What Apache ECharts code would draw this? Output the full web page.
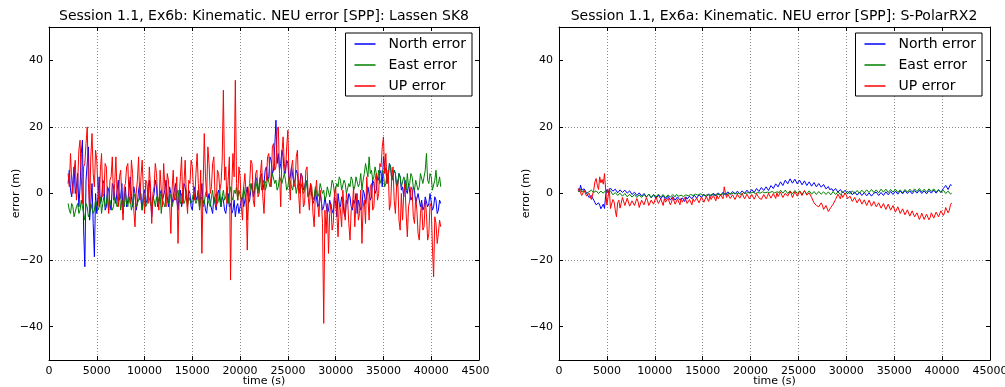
<!DOCTYPE html>
<html>
<head>
<meta charset="utf-8">
<script src="https://cdn.jsdelivr.net/npm/echarts@6/dist/echarts.min.js"></script>
<style>
  html, body { margin: 0; padding: 0; background: #fff; }
  #chart { width: 1005px; height: 387px; }
</style>
</head>
<body>
<div id="chart"></div>
<script>
// Epoch sampling of both receivers (seconds of day)
const timeStart = 2000;
const timeStep = 125;

const seriesNames = ['North error', 'East error', 'UP error'];
const panelTitles = [
  'Session 1.1, Ex6b: Kinematic. NEU error [SPP]: Lassen SK8',
  'Session 1.1, Ex6a: Kinematic. NEU error [SPP]: S-PolarRX2'
];
const xTickValues = [0, 5000, 10000, 15000, 20000, 25000, 30000, 35000, 40000, 45000];
const yTickValues = [-40, -20, 0, 20, 40];

// Lassen SK8 NEU errors (m), one row per 2500 s
const sk8North = [
  3, 7, 1, -1, 4, 8, 0, 2, 6, -4, 2, 12, 16, -11, -22, 4, 9, 14, -8, -3,
  3, -9, -19, 0, -6, -1, 5, -3, -2, 4, 3, -5, -4, 2, 1, -3, -5, 3, 2, -1,
  -3, 1, 4, -2, -1, 3, -6, -1, 2, -4, -2, 1, 5, -1, -4, 2, 0, -5, -3, 1,
  3, -2, -5, 0, 1, -3, -2, 2, 4, -1, -7, -2, 0, 4, 2, -4, -3, 0, 1, -2,
  -2, 1, 4, -1, -4, 2, 0, -3, -1, 1, 3, -2, -5, 0, 1, -4, -2, 3, 2, -1,
  -3, 1, 0, -4, -5, -1, 2, -2, -1, 1, -4, -1, 3, -3, -2, -5, -6, -2, 0, -3,
  -3, -6, -1, -3, -5, 0, 1, -2, -4, -1, -2, -5, -6, -3, 0, -4, -3, -6, -5, -2,
  -7, -4, -3, -6, -6, -2, -1, -4, -4, 0, 2, -3, -2, 1, 3, -1, 0, 5, 4, 1,
  2, 5, 6, 1, 3, 7, 8, 4, 5, 11, 10, 6, 7, 14, 22, 9, 12, 7, 9, 13,
  11, 6, 7, 10, 9, 4, 5, 8, 8, 3, 4, 7, 6, 2, 3, 6, 5, 1, 2, 4,
  3, -1, 0, 2, 2, -3, -2, 1, 1, -4, -3, 0, 0, -5, -4, -1, -1, -6, -5, -2,
  -2, -5, -6, -1, -3, -7, 0, -3, -4, -1, -2, -6, -7, -2, -3, 0, -1, -4, -5, -2,
  -3, 0, -6, -2, -2, -5, -4, 1, 0, -3, -3, 2, 2, -2, -1, 4, 3, 0, 1, 5,
  4, 7, 6, 2, 11, 8, 7, 3, 5, 9, 8, 4, 4, 7, 6, 2, 3, 6, 5, 1,
  2, -1, 4, 1, 0, 3, 3, -2, -1, 2, 1, -3, -3, 0, 0, -4, -2, -5, -4, -1,
  -1, -4, -3, 0, 0, -5, -4, -1, -2, -6, -5, -2, -3
];
const sk8East = [
  -3, -5, -6, -3, -4, -7, -7, -4, -3, -6, -5, -2, -2, -6, -8, -3, -4, -7, -6, -3,
  -3, -6, -5, -2, -2, -5, -4, -1, -6, -3, -1, -4, -3, 0, -5, -2, -2, -5, -4, -1,
  -1, -4, -3, 0, -5, -2, -2, -4, 0, -3, -4, -1, -2, -5, -3, 0, -1, -4, -4, -2,
  -2, 0, -5, -2, -1, -4, -3, 0, 0, -3, -4, -1, -2, -4, -1, -3, -3, 0, -6, -2,
  -2, -4, 0, -2, -3, 0, -1, -4, -4, -1, -2, 0, 1, -2, -3, 0, -1, -3, -2, 1,
  -4, -1, -1, -3, -3, 0, 0, -3, -2, 1, -5, -2, -1, -4, -3, 0, 1, -2, -2, -4,
  -1, 1, -3, -1, 0, -3, -2, 1, -4, -1, 1, -2, -1, 2, -3, 0, 2, -1, -2, 1,
  0, 2, -2, 1, 1, -2, -1, 2, 2, -3, -8, -2, 0, 3, 3, 0, 1, 4, 2, 0,
  3, 5, 1, 3, 4, 1, 2, 5, 5, 2, 3, 6, 6, 3, 4, 1, 2, 5, 5, 3,
  3, 6, 4, 1, 2, 5, 5, 2, 1, 4, 3, 0, 2, 4, 0, 3, 3, 0, 1, 4,
  2, -1, 0, 3, 1, -2, -1, 2, 2, -1, 0, 3, 3, 0, 1, -2, -1, 2, 2, -1,
  1, 4, 3, 0, 0, 3, 2, 5, 4, 1, 1, 4, 3, 0, 0, 3, 2, 5, 4, 1,
  2, 5, 5, 2, 3, 6, 1, 4, 6, 9, 9, 5, 11, 6, 7, 4, 5, 8, 8, 4,
  7, 3, 4, 7, 6, 2, 3, 6, 5, 9, 8, 4, 4, 7, 6, 2, 3, 6, 5, 2,
  2, 5, 4, 1, 6, 2, 3, 6, 5, 2, 1, 4, 4, 1, 2, 6, 6, 3, 3, 7,
  12, 4, 3, 6, 5, 1, 1, 4, 7, 2, 3, 5, 2
];
const sk8Up = [
  6, 2, 12, 4, 0, 7, 10, -2, 3, 13, 16, 5, -3, 8, 9, 15, 20, 3, -5, 11,
  18, 6, 2, 13, 10, 1, -4, 7, 12, -1, 0, 9, 8, -2, -6, 4, 5, 11, -2, 3,
  11, 0, -4, 5, 7, -2, -8, 2, 3, 8, 9, -1, -3, 10, 6, -5, -10, 0, 4, 11,
  -2, 5, 10, 1, -6, 4, 3, -3, 8, 2, -9, 0, 2, 9, 6, -2, -5, 7, 1, -4,
  9, 2, -4, 6, 4, -3, -12, 1, 7, -2, 0, 5, -15, -1, 5, 11, -3, 3, 10, -1,
  -6, 4, 3, 10, 8, 1, -2, 6, 12, 3, -4, 7, -18, 2, 18, 5, -1, 14, 9, 0,
  2, 9, 11, -1, -4, 7, 6, 1, 3, 10, 31, 4, 8, -3, 4, 11, -26, 2, 12, 5,
  34, 3, -2, 8, 5, -4, -8, 2, 6, 0, -17, 1, 3, 10, 9, -2, -4, 6, 7, -1,
  0, 6, 10, -1, -6, 3, 4, 11, 12, 5, 2, 14, 15, 7, 8, 19, 20, 6, -4, 12,
  17, 9, 6, 14, 19, 4, -2, 8, 10, 2, 3, 11, 13, 0, -6, 6, 5, -4, -3, 7,
  8, -1, -5, 3, 2, -6, -10, 0, 4, -3, -7, 1, -2, -9, -39, -5, -12, -3, -18, -6,
  -3, -11, -9, 0, 2, -6, -13, -3, -5, -10, 1, -4, -8, 0, -2, -9, -14, -5, -4, 2,
  -10, -3, 0, -8, -6, 1, -15, -4, -2, -9, 5, -1, -8, 2, 3, -5, -4, 4, 6, -2,
  0, 9, 8, 14, 17, 6, 12, 3, 7, -5, -3, 5, 8, -2, -6, 2, 4, -8, -11, 0,
  -8, 0, 3, -6, -13, -4, -2, 2, 1, -7, -9, -1, -5, -12, -14, -6, -3, -11, -10, -2,
  -6, -14, -12, -3, -4, -16, -25, -7, -9, -15, -12, -8, -10
];

// PolaRx2 NEU errors (m), one row per 2500 s
const prxNorth = [
  1.5, 0.6, 2.5, 1.0, 0.5, 1.4, 1.2, 0.2, -0.5, -1.2, -1.5, -0.6, -1.0, -2.0, -2.5, -3.4, -4.0, -2.8, -3.5, -4.6,
  -4.2, -3.2, -4.5, -0.5, 1.2, 0.4, 0.8, 1.6, 1.5, 0.7, 0.6, 1.3, 1.0, 0.2, 0.4, 1.1, 1.2, 0.3, 0.5, 1.0,
  0.9, 0.1, 0.2, 0.8, 0.6, -0.3, -0.2, 0.4, 0.3, -0.6, -0.5, 0.2, 0.1, -0.8, -0.6, 0.0, -0.2, -1.0, -0.8, -0.2,
  -0.5, -1.3, -1.0, -0.3, -0.6, -1.5, -1.2, -0.5, -0.7, -1.6, -1.4, -0.6, -0.9, -1.8, -1.5, -0.8, -1.1, -2.0, -1.6, -0.9,
  -1.2, -2.0, -1.8, -1.0, -1.0, -1.9, -2.2, -1.3, -1.4, -2.4, -1.0, -1.7, -1.8, -0.8, -0.9, -1.6, -1.3, -0.5, -0.7, -1.4,
  -1.1, -0.4, -0.6, -1.2, -0.9, -0.2, -0.4, -1.0, -0.8, -0.1, -0.3, -0.9, -0.6, 0.1, -0.2, -0.8, -0.5, 0.2, 0, -0.6,
  -0.3, 0.4, 0.1, -0.5, -0.2, 0.5, 0.2, -0.3, -0.1, 0.6, 0.3, -0.2, 0, 0.7, 0.4, -0.1, 0.1, 0.8, 0.5, 0,
  0.3, 1.0, 0.7, 0.1, 0.4, 1.2, 0.9, 0.3, 0.6, 1.5, 1.2, 0.6, 0.8, 1.8, 1.5, 0.9, 1.1, 2.0, 1.4, 0.9,
  1.6, 2.4, 2.2, 1.5, 1.8, 2.9, 2.8, 2.0, 2.4, 3.5, 3.2, 2.4, 2.7, 4.0, 3.8, 2.9, 3.0, 4.4, 4.2, 3.1,
  3.4, 4.3, 3.9, 2.9, 3.1, 4.0, 3.6, 2.6, 2.9, 3.8, 3.3, 2.4, 2.7, 3.5, 3.0, 2.2, 2.5, 3.3, 2.8, 2.0,
  2.4, 3.0, 2.6, 1.9, 2.0, 2.7, 2.2, 1.4, 1.6, 2.1, 1.2, 1.8, 1.4, 0.7, 0.9, 1.5, 1.1, 0.4, 0.6, 1.2,
  0.8, 0.2, 0.4, 1.0, 0.6, -0.1, 0.1, 0.7, 0.3, -0.4, -0.1, 0.5, 0.2, -0.5, -0.2, 0.4, 0.1, -0.6, -0.3, 0.3,
  0, -0.7, -0.4, 0.2, -0.1, -0.8, -0.5, 0.1, -0.2, 0.4, 0.1, -0.6, -0.3, 0.3, 0, -0.6, -0.2, 0.5, 0.2, -0.4,
  0, 0.6, 0.3, -0.3, 0.1, 0.7, 0.4, -0.2, 0.2, 0.8, 0.5, -0.1, 0.3, 0.9, 0.6, 0.0, 0.2, 0.8, 0.5, -0.1,
  0.3, 0.9, 0.7, 0.1, 0.4, 1.0, 0.6, 0.0, 0.2, 0.8, 0.5, -0.1, 0.3, 0.9, 0.7, 0.1, 0.4, 1.0, 0.6, 0.1,
  0.5, 1.1, 0.9, 0.3, 0.6, 1.5, 1.2, 2.4, 2.0, 1.2, 1.4, 2.7, 2.4
];
const prxEast = [
  0.5, 1.0, 1.2, 0.4, 0.3, 0.9, 0.8, 0.1, -0.2, 0.5, 0.4, 1.0, 0.9, 0.3, 0.2, 0.8, 0.6, 0.0, 0.1, 0.7,
  0.7, 0.1, 0.3, 0.9, 0.9, 0.2, 0.4, 0.8, 0.2, -0.4, -0.3, 0.3, 0.1, -0.6, -0.5, 0.1, -0.1, -0.8, -0.6, 0.0,
  -0.3, -1.0, -0.8, -0.2, -0.4, -1.1, -0.9, -0.3, -0.5, -1.2, -1.0, -0.4, -0.6, -1.2, -0.9, -0.3, -0.4, -1.1, -0.8, -0.2,
  -0.6, -1.2, -1.0, -0.3, -0.5, -1.1, -0.8, -0.2, -0.4, -1.0, -0.9, -0.3, -0.6, -1.3, -1.1, -0.4, -0.5, -1.1, -0.9, -0.3,
  -0.6, -1.0, -0.3, -0.9, -0.8, -0.2, -0.5, -1.1, -0.9, -0.3, -0.4, -1.0, -0.7, -0.1, -0.3, -0.9, -0.6, 0.0, -0.2, -0.8,
  -0.5, 0.1, -0.1, -0.7, -0.4, 0.0, -0.7, -0.2, -0.3, -0.9, -0.6, 0.0, -0.2, -0.8, -0.5, 0.1, -0.1, -0.7, -0.4, 0.1,
  -0.2, -0.7, 0, 0.4, -0.3, -0.8, 0.1, -0.4, -0.2, 0.4, 0.2, -0.3, -0.1, 0.5, 0.1, -0.5, -0.3, 0.3, 0.2, -0.4,
  0, 0.6, 0.3, -0.2, 0.1, 0.7, 0.4, -0.2, 0, 0.6, 0.3, -0.2, 0.1, 0.7, 0.5, -0.1, 0.2, 0.8, 0.4, -0.1,
  0.3, 0.9, 0.6, 0.0, 0.2, 0.8, 0.5, -0.1, 0.3, 1.0, 0.7, 0.1, 0.4, 1.0, 0.6, 0.0, 0.2, 0.8, 0.5, -0.1,
  0.3, 0.9, 0.6, 0.0, 0.2, 0.8, 0.4, -0.2, 0.1, 0.7, 0.5, -0.1, 0.2, 0.8, 0.4, -0.2, 0, 0.6, 0.3, -0.3,
  0.1, 0.6, 0.4, -0.2, 0, 0.5, 0.3, -0.3, -0.1, 0.5, 0.2, -0.4, 0, 0.6, 0.3, -0.3, -0.1, 0.5, 0.2, -0.3,
  0, 0.6, 0.3, -0.2, 0.1, 0.7, 0.4, -0.1, 0.2, 0.8, 0.5, 0.0, 0.3, 0.9, 0.6, 0.1, 0.4, 1.0, 0.7, 0.2,
  0.5, 1.1, 0.8, 0.3, 0.6, 1.2, 0.9, 0.3, 0.5, 1.1, 0.8, 0.2, 0.6, 1.3, 1.0, 0.4, 0.7, 1.3, 0.9, 0.3,
  0.6, 1.2, 1.0, 0.4, 0.7, 1.3, 0.9, 0.3, 0.5, 1.1, 0.8, 0.2, 0.6, 1.2, 1.0, 0.4, 0.7, 1.3, 1.1, 0.5,
  0.8, 1.4, 1.2, 0.6, 0.9, 1.5, 1.1, 0.5, 0.7, 1.3, 1.0, 0.4, 0.8, 1.4, 1.2, 0.6, 0.9, 1.4, 1.0, 0.4,
  0.7, 1.2, 0.9, 0.3, 0.5, 1.0, 0.6, 0.0, 0.2, 0.7, 0.4, -0.2, 0.1
];
const prxUp = [
  0.8, 1.6, 0.2, -0.6, -0.5, 0.9, 0.6, -0.8, -1.2, 0.1, -0.4, -1.8, -1.5, 1.0, 3.5, 4.5, 2.5, 1.2, 5.0, 3.2,
  4.2, 2.8, 6.0, 1.0, -3.5, -1.0, 1.5, -4.5, -4.0, -1.8, -2.5, -5.0, -7.0, -2.8, -2.0, -4.4, -3.8, -1.2, -1.5, -3.6,
  -3.2, -1.4, -2.0, -3.8, -4.0, -2.2, -1.6, -3.6, -3.4, -1.5, -2.4, -4.2, -3.8, -2.0, -1.8, -3.4, -3.0, -1.2, -2.2, -3.6,
  -3.5, -2.0, -1.9, -3.2, -2.8, -1.0, -1.4, -3.0, -3.2, -1.6, -2.2, -3.6, -1.6, -2.6, -3.0, -1.4, -2.0, -3.4, -2.6, -1.2,
  -1.8, -3.2, -3.0, -1.6, -2.2, -3.4, -1.5, -2.6, -2.8, -1.2, -1.9, -3.0, -3.2, -1.8, -2.4, -3.4, -1.6, -2.4, -2.6, -1.4,
  -1.8, -2.8, -2.5, -1.0, -1.2, -2.6, -2.2, -0.9, -1.5, -2.4, -0.8, -1.8, -2.0, -0.6, -1.2, -2.2, -0.6, -1.6, -1.6, -0.4,
  -0.8, -1.6, 2.0, 0.2, -1.2, -0.2, -0.4, -1.5, -1.6, -0.4, -0.6, -1.8, -1.4, -0.2, -0.3, -1.4, -1.0, 0.0, -0.5, -1.6,
  -1.2, -0.2, -0.4, -1.6, -1.5, -0.3, -0.6, -1.7, -1.0, 0.0, -0.2, -1.3, -0.8, -1.8, -1.3, -0.3, -0.5, -1.6, -0.9, 0.1,
  -0.3, -1.4, -1.1, 0.0, -0.5, -1.5, 0.2, -0.9, -0.8, 0.4, -0.2, -1.2, -1.0, 0.1, 0.4, -0.8, -0.5, 0.6, -0.1, -1.2,
  -0.6, 0.5, 0.3, -0.8, -0.4, 0.7, 0.5, -0.6, -0.2, 0.9, 0.6, -0.5, -0.8, 0.2, -0.3, -1.2, -1.5, -2.8, -2.5, -3.6,
  -3.0, -4.0, -4.2, -2.8, -3.5, -4.8, -5.2, -3.6, -4.0, -5.4, -5.6, -4.2, -4.4, -3.2, -3.0, -1.8, -1.5, -0.2, -0.8, -1.6,
  -0.2, -1.2, -1.0, 0.2, -0.5, -1.6, -1.8, -0.8, -1.2, -2.4, -2.2, -1.2, -1.6, -2.8, -2.6, -1.5, -2.0, -3.2, -3.0, -1.9,
  -2.4, -3.6, -3.2, -2.0, -2.6, -3.8, -3.6, -2.4, -2.9, -4.0, -3.8, -2.8, -3.2, -4.4, -4.2, -3.0, -3.5, -4.8, -4.4, -3.2,
  -3.8, -5.0, -4.8, -3.6, -4.2, -5.6, -5.4, -4.0, -4.6, -6.0, -5.8, -4.6, -5.0, -6.4, -6.2, -4.9, -5.4, -6.8, -6.6, -5.2,
  -5.8, -7.0, -7.2, -5.8, -6.2, -7.8, -7.0, -5.9, -6.4, -7.8, -7.6, -6.2, -6.6, -7.9, -7.2, -5.8, -6.2, -7.4, -6.8, -5.6,
  -6.0, -7.0, -6.6, -5.2, -5.4, -6.6, -5.8, -4.2, -4.4, -5.8, -5.0, -3.4, -2.8
];

const colors = ['#0000ff', '#008000', '#ff0000'];
const FONT = 'DejaVu Sans';
const GRID_DOTS = { color: '#8a8a8a', type: [1, 2], width: 1 };

function pairs(values) {
  return values.map((v, i) => [timeStart + i * timeStep, v]);
}
function minusSign(v) {
  return String(v).replace('-', '\u2212');
}

const grids = [
  { left: 49, right: 526, top: 27, bottom: 27, outerBoundsMode: 'none', containLabel: false },
  { left: 559, right: 15, top: 27, bottom: 27, outerBoundsMode: 'none', containLabel: false }
];

const xAxis = [];
const yAxis = [];
grids.forEach((g, gi) => {
  xAxis.push({
    type: 'value', gridIndex: gi, min: 0, max: 45000, interval: 5000, position: 'bottom',
    axisLine: { onZero: false, lineStyle: { color: '#000', width: 1 } },
    axisTick: { inside: true, length: 4, lineStyle: { color: '#000' } },
    axisLabel: { color: '#000', fontFamily: FONT, fontSize: 11, margin: 6,
                 formatter: v => xTickValues.indexOf(v) >= 0 ? String(v) : '' },
    splitLine: { show: true, lineStyle: GRID_DOTS },
    name: 'time (s)', nameLocation: 'middle', nameGap: 16, nameMoveOverlap: false,
    nameTextStyle: { color: '#000', fontFamily: FONT, fontSize: 11 }
  });
  xAxis.push({
    type: 'value', gridIndex: gi, min: 0, max: 45000, interval: 5000, position: 'top',
    axisLine: { onZero: false, lineStyle: { color: '#000', width: 1 } },
    axisTick: { inside: true, length: 4, lineStyle: { color: '#000' } },
    axisLabel: { show: false }, splitLine: { show: false }
  });
  yAxis.push({
    type: 'value', gridIndex: gi, min: -50, max: 50, interval: 10, position: 'left',
    axisLine: { onZero: false, lineStyle: { color: '#000', width: 1 } },
    axisTick: { inside: true, length: 4, customValues: yTickValues, lineStyle: { color: '#000' } },
    axisLabel: { color: '#000', fontFamily: FONT, fontSize: 11, margin: 6,
                 formatter: v => yTickValues.indexOf(v) >= 0 ? minusSign(v) : '' },
    splitLine: { show: true, lineStyle: Object.assign({}, GRID_DOTS, { color: ['rgba(0,0,0,0)', GRID_DOTS.color] }) },
    name: 'error (m)', nameLocation: 'middle', nameGap: 27, nameRotate: 90, nameMoveOverlap: false,
    nameTextStyle: { color: '#000', fontFamily: FONT, fontSize: 11 }
  });
  yAxis.push({
    type: 'value', gridIndex: gi, min: -50, max: 50, interval: 10, position: 'right',
    axisLine: { onZero: false, lineStyle: { color: '#000', width: 1 } },
    axisTick: { inside: true, length: 4, customValues: yTickValues, lineStyle: { color: '#000' } },
    axisLabel: { show: false }, splitLine: { show: false }
  });
});

const panelData = [
  [sk8North, sk8East, sk8Up],
  [prxNorth, prxEast, prxUp]
];
const series = [];
panelData.forEach((set, gi) => {
  set.forEach((values, si) => {
    series.push({
      name: seriesNames[si], type: 'line',
      xAxisIndex: gi * 2, yAxisIndex: gi * 2,
      data: pairs(values), showSymbol: false, symbol: 'none',
      lineStyle: { color: colors[si], width: 1 }, itemStyle: { color: colors[si] },
      emphasis: { disabled: true }, clip: true
    });
  });
});

const legendBase = {
  orient: 'vertical', top: 33, data: seriesNames, icon: 'rect',
  itemWidth: 21, itemHeight: 1.5, itemGap: 7,
  borderColor: '#000', borderWidth: 1, padding: [4, 6, 3, 9],
  backgroundColor: '#fff', selectedMode: false,
  textStyle: { fontFamily: FONT, fontSize: 14, color: '#000', padding: [0, 0, 0, 8] }
};

const option = {
  backgroundColor: '#fff',
  animation: false,
  grid: grids,
  xAxis: xAxis,
  yAxis: yAxis,
  legend: [
    Object.assign({}, legendBase, { right: 533 }),
    Object.assign({}, legendBase, { right: 23 })
  ],
  graphic: [
    { type: 'text', x: 264, y: 16, style: { text: panelTitles[0], font: '14px "DejaVu Sans"', fill: '#000', textAlign: 'center', textVerticalAlign: 'middle' } },
    { type: 'text', x: 774, y: 16, style: { text: panelTitles[1], font: '14px "DejaVu Sans"', fill: '#000', textAlign: 'center', textVerticalAlign: 'middle' } },
    // the right-hand panel's margin covers the tail of the left panel's last tick label
    { type: 'rect', shape: { x: 489, y: 362, width: 12, height: 16 }, style: { fill: '#fff' }, z: 100 }
  ],
  series: series
};

const chart = echarts.init(document.getElementById('chart'), null, { renderer: 'canvas' });
chart.setOption(option);
</script>
</body>
</html>
